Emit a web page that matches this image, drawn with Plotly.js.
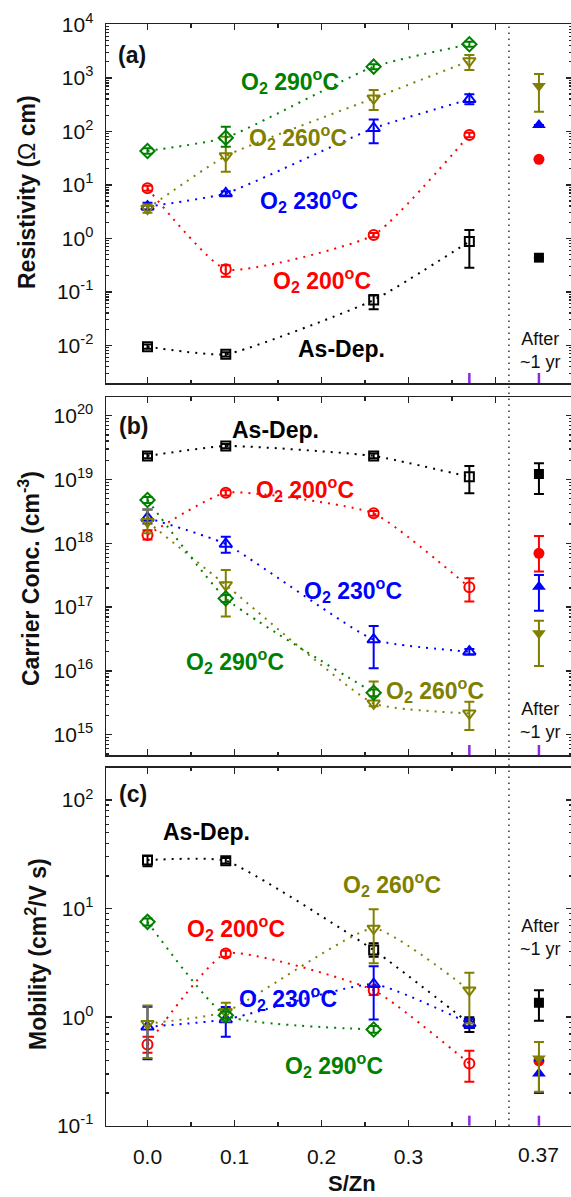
<!DOCTYPE html>
<html>
<head>
<meta charset="utf-8">
<script src="https://cdn.plot.ly/plotly-3.0.1.min.js"></script>
<style>
html,body{margin:0;padding:0;overflow:hidden;background:#fff;}
#chart{width:573px;height:1197px;}
</style>
</head>
<body>
<div id="chart"></div>
<script>
// ---------------- DATA ----------------
const SZN = [0, 0.09, 0.26, 0.37];          // S/Zn ratio of the samples
const AFTER_X = 0.45;                        // column used for the "after ~1 yr" points
const AFTER_LABEL = '0.37';
const XTICK_VALS = [0, 0.1, 0.2, 0.3, 0.4];
const XTICK_TEXT = ['0.0', '0.1', '0.2', '0.3', ''];
const XMINOR_VALS = [0.05, 0.15, 0.25, 0.35];
const BREAK_X = 0.4155;

const SERIES_NAMES = ['As-Dep.', 'O2 200°C', 'O2 230°C', 'O2 260°C', 'O2 290°C'];

// Resistivity (Ohm cm)
const RHO_ASDEP    = [0.0094, 0.0068, 0.070, 0.87];
const RHO_ASDEP_LO = [0.0086, 0.0062, 0.047, 0.28];
const RHO_ASDEP_HI = [0.0103, 0.0074, 0.087, 1.43];
const RHO_200    = [8.6, 0.263, 1.15, 85];
const RHO_200_LO = [7.7, 0.19, 1.05, 77];
const RHO_200_HI = [9.6, 0.314, 1.26, 94];
const RHO_230    = [3.9, 6.9, 114, 396];
const RHO_230_LO = [3.4, 6.3, 60, 320];
const RHO_230_HI = [4.6, 7.6, 167, 490];
const RHO_260    = [3.6, 34.5, 414, 2060];
const RHO_260_LO = [3.0, 17.6, 250, 1400];
const RHO_260_HI = [4.3, 79, 592, 2670];
const RHO_290    = [42.8, 75.9, 1615, 4230];
const RHO_290_LO = [38, 51.5, 1450, 3800];
const RHO_290_HI = [48, 122, 1800, 4700];
// after ~1 yr: As-Dep, 200, 230, 260
const RHO_AFTER    = [0.435, 30, 131, 703];
const RHO_AFTER_LO = [0.435, 30, 131, 232];
const RHO_AFTER_HI = [0.435, 30, 131, 1180];

// Carrier concentration (cm^-3)
const N_ASDEP    = [2.34e19, 3.35e19, 2.34e19, 1.1e19];
const N_ASDEP_LO = [2.15e19, 3.1e19, 2.15e19, 6.1e18];
const N_ASDEP_HI = [2.55e19, 3.6e19, 2.55e19, 1.63e19];
const N_200    = [1.35e18, 6.2e18, 2.95e18, 2.04e17];
const N_200_LO = [1.15e18, 5.6e18, 2.7e18, 1.22e17];
const N_200_HI = [1.6e18, 6.8e18, 3.2e18, 2.83e17];
const N_230    = [2.5e18, 9.75e17, 3.1e16, 2.0e16];
const N_230_LO = [2.05e18, 7.1e17, 1.1e16, 1.8e16];
const N_230_HI = [3.4e18, 1.27e18, 5.06e16, 2.2e16];
const N_260    = [2.18e18, 2.22e17, 3.1e15, 2.16e15];
const N_260_LO = [1.44e18, 7.1e16, 2.8e15, 1.19e15];
const N_260_HI = [3.4e18, 3.8e17, 6.8e15, 3.3e15];
const N_290    = [4.78e18, 1.37e17, 4.55e15];
const N_290_LO = [4.3e18, 1.2e17, 4.0e15];
const N_290_HI = [5.3e18, 1.55e17, 5.1e15];
const N_AFTER    = [1.22e19, 6.97e17, 2.09e17, 3.88e16];
const N_AFTER_LO = [5.9e18, 3.6e17, 8.8e16, 1.19e16];
const N_AFTER_HI = [1.8e19, 1.3e18, 3.18e17, 6.1e16];

// Mobility (cm^2/V s)
const MU_ASDEP    = [28, 27.6, 4.15, 0.875];
const MU_ASDEP_LO = [24.5, 26, 3.6, 0.73];
const MU_ASDEP_HI = [30.5, 29.2, 4.8, 1.0];
const MU_200    = [0.56, 3.86, 1.77, 0.374];
const MU_200_LO = [0.47, 3.6, 1.6, 0.254];
const MU_200_HI = [0.66, 4.1, 1.95, 0.49];
const MU_230    = [0.815, 0.95, 2.01, 0.875];
const MU_230_LO = [0.41, 0.66, 0.953, 0.8];
const MU_230_HI = [1.245, 1.24, 2.95, 0.96];
const MU_260    = [0.87, 1.12, 6.56, 1.77];
const MU_260_LO = [0.42, 0.915, 3.13, 0.875];
const MU_260_HI = [1.28, 1.36, 9.84, 2.56];
const MU_290    = [7.55, 1.04, 0.77];
const MU_290_LO = [7.0, 0.97, 0.72];
const MU_290_HI = [8.1, 1.12, 0.83];
const MU_AFTER    = [1.36, 0.395, 0.303, 0.416];
const MU_AFTER_LO = [0.925, 0.395, 0.20, 0.205];
const MU_AFTER_HI = [1.77, 0.395, 0.40, 0.59];

// decade exponents shown as tick labels
const RHO_EXP = [-2, -1, 0, 1, 2, 3, 4];
const N_EXP = [15, 16, 17, 18, 19, 20];
const MU_EXP = [-1, 0, 1, 2];

// ---------------- STYLE ----------------
const W = 573, H = 1197;
const px = x => x / W;
const py = y => 1 - y / H;
const COLORS = ['#000000', '#ff0000', '#0000ff', '#808000', '#008000'];
const SYMBOLS = ['square', 'circle', 'triangle-up', 'triangle-down', 'diamond'];
const SIZES = [9, 10, 11, 11, 11];
const FONT = 'Liberation Sans, Arial, Helvetica, sans-serif';
const AX_COL = '#222';

const panels = [
  {xa: 'x', ya: 'y', series: [
    [RHO_ASDEP, RHO_ASDEP_LO, RHO_ASDEP_HI], [RHO_200, RHO_200_LO, RHO_200_HI],
    [RHO_230, RHO_230_LO, RHO_230_HI], [RHO_260, RHO_260_LO, RHO_260_HI],
    [RHO_290, RHO_290_LO, RHO_290_HI]],
   after: [RHO_AFTER, RHO_AFTER_LO, RHO_AFTER_HI]},
  {xa: 'x2', ya: 'y2', series: [
    [N_ASDEP, N_ASDEP_LO, N_ASDEP_HI], [N_200, N_200_LO, N_200_HI],
    [N_230, N_230_LO, N_230_HI], [N_260, N_260_LO, N_260_HI],
    [N_290, N_290_LO, N_290_HI]],
   after: [N_AFTER, N_AFTER_LO, N_AFTER_HI]},
  {xa: 'x3', ya: 'y3', series: [
    [MU_ASDEP, MU_ASDEP_LO, MU_ASDEP_HI], [MU_200, MU_200_LO, MU_200_HI],
    [MU_230, MU_230_LO, MU_230_HI], [MU_260, MU_260_LO, MU_260_HI],
    [MU_290, MU_290_LO, MU_290_HI]],
   after: [MU_AFTER, MU_AFTER_LO, MU_AFTER_HI]}
];

const traces = [];
panels.forEach(p => {
  p.series.forEach((s, i) => {
    const [v, lo, hi] = s;
    traces.push({
      type: 'scatter', mode: 'lines+markers', name: SERIES_NAMES[i],
      x: SZN.slice(0, v.length), y: v, xaxis: p.xa, yaxis: p.ya,
      line: {color: COLORS[i], width: 2, dash: '2px,6px', shape: 'spline', smoothing: 0.45},
      marker: {symbol: SYMBOLS[i] + '-open', size: SIZES[i], color: COLORS[i], line: {width: 2, color: COLORS[i]}},
      error_y: {type: 'data', symmetric: false,
        array: v.map((d, k) => hi[k] - d), arrayminus: v.map((d, k) => d - lo[k]),
        color: COLORS[i], thickness: 2, width: 5},
      showlegend: false, hoverinfo: 'skip'
    });
  });
  const [av, alo, ahi] = p.after;
  av.forEach((d, i) => {
    traces.push({
      type: 'scatter', mode: 'markers', name: SERIES_NAMES[i] + ' after ~1 yr',
      x: [AFTER_X], y: [d], xaxis: p.xa, yaxis: p.ya,
      marker: {symbol: SYMBOLS[i], size: SIZES[i] + 1, color: COLORS[i]},
      error_y: {type: 'data', symmetric: false, array: [ahi[i] - d], arrayminus: [d - alo[i]],
        color: COLORS[i], thickness: 2, width: 5},
      showlegend: false, hoverinfo: 'skip'
    });
  });
});

function minorLog(exps) {
  const out = [];
  for (let e = exps[0] - 1; e <= exps[exps.length - 1]; e++)
    for (let m = 2; m <= 9; m++) out.push(m * Math.pow(10, e));
  return out;
}

function xAxis(anchor, showLabels) {
  return {
    domain: [px(106), px(572)], anchor: anchor, range: [-0.0477, 0.488],
    tickmode: 'array', tickvals: XTICK_VALS, ticktext: XTICK_TEXT,
    showticklabels: showLabels, ticks: 'inside', ticklen: 6, tickwidth: 1.5, tickcolor: AX_COL,
    minor: {tickmode: 'array', tickvals: XMINOR_VALS, ticks: 'inside', ticklen: 3.5, tickwidth: 1.2, tickcolor: AX_COL},
    showline: true, linecolor: AX_COL, linewidth: 1.5, mirror: 'ticks',
    showgrid: false, zeroline: false, automargin: false, fixedrange: true,
    tickfont: {family: FONT, size: 21, color: '#111'}, ticklabelstandoff: 12
  };
}
function yAxis(anchor, top, bottom, range, exps) {
  return {
    domain: [py(bottom), py(top)], anchor: anchor, type: 'log', range: range,
    tickmode: 'array', tickvals: exps.map(e => Math.pow(10, e)),
    ticktext: exps.map(e => '10<sup>' + e + '</sup>'),
    ticks: 'inside', ticklen: 6, tickwidth: 1.5, tickcolor: AX_COL,
    minor: {tickmode: 'array', tickvals: minorLog(exps), ticks: 'inside', ticklen: 3, tickwidth: 1.2, tickcolor: AX_COL},
    showline: true, linecolor: AX_COL, linewidth: 1.5, mirror: 'ticks',
    showgrid: false, zeroline: false, automargin: false, fixedrange: true,
    tickfont: {family: FONT, size: 21, color: '#111'}, ticklabelstandoff: 7
  };
}

const shapes = [{
  type: 'line', xref: 'x', yref: 'paper', x0: BREAK_X, x1: BREAK_X, y0: py(1126), y1: py(24),
  line: {color: '#333', width: 1.5, dash: '1.5px,4.5px'}
}];
['', '2', '3'].forEach(k => {
  [SZN[3], AFTER_X].forEach(xv => {
    shapes.push({type: 'line', xref: 'x' + k, yref: 'y' + k + ' domain', x0: xv, x1: xv, y0: 0, y1: 0.028,
      line: {color: '#8a2be2', width: 2.5}});
  });
});

function ann(text, cx, cy, color, size, bold, extra) {
  return Object.assign({
    text: bold ? '<b>' + text + '</b>' : text, xref: 'paper', yref: 'paper',
    x: px(cx), y: py(cy), xanchor: 'center', yanchor: 'middle', showarrow: false,
    font: {family: FONT, size: size, color: color}
  }, extra || {});
}
const O2 = t => 'O<sub>2</sub> ' + t + '<sup>o</sup>C';
const annotations = [
  ann('(a)', 132, 55, '#111', 23, true),
  ann('(b)', 133, 426, '#111', 23, true),
  ann('(c)', 133, 794, '#111', 23, true),
  // panel (a)
  ann(O2(290), 290, 81, COLORS[4], 23, true),
  ann(O2(260), 298, 137, COLORS[3], 23, true),
  ann(O2(230), 309, 200, COLORS[2], 23, true),
  ann(O2(200), 322, 280, COLORS[1], 23, true),
  ann('As-Dep.', 341, 349, COLORS[0], 23, true),
  ann('After<br>~1 yr', 540, 350, '#111', 18, false),
  // panel (b)
  ann('As-Dep.', 275, 430, COLORS[0], 23, true),
  ann(O2(200), 305, 489, COLORS[1], 23, true),
  ann(O2(230), 353, 590, COLORS[2], 23, true),
  ann(O2(290), 235, 661, COLORS[4], 23, true),
  ann(O2(260), 435, 690, COLORS[3], 23, true),
  ann('After<br>~1 yr', 540, 720, '#111', 18, false),
  // panel (c)
  ann('As-Dep.', 206, 832, COLORS[0], 23, true),
  ann(O2(260), 392, 884, COLORS[3], 23, true),
  ann(O2(200), 236, 928, COLORS[1], 23, true),
  ann(O2(230), 288, 998, COLORS[2], 23, true),
  ann(O2(290), 334, 1065, COLORS[4], 23, true),
  ann('After<br>~1 yr', 540, 937, '#111', 18, false),
  // axis titles
  ann('S/Zn', 352, 1183, '#111', 22, true),
  {text: AFTER_LABEL, xref: 'x3', yref: 'paper', x: AFTER_X, y: py(1154), xanchor: 'center', yanchor: 'middle',
   showarrow: false, font: {family: FONT, size: 21, color: '#111'}},
  ann('Resistivity (<span style="font-weight:normal">Ω</span> cm)', 27, 192, '#111', 23, true, {textangle: -90}),
  ann('Carrier Conc. (cm<sup>-3</sup>)', 29, 579, '#111', 23, true, {textangle: -90}),
  ann('Mobility (cm<sup>2</sup>/V s)', 36, 954, '#111', 23, true, {textangle: -90})
];

const layout = {
  width: W, height: H, margin: {l: 0, r: 0, t: 0, b: 0},
  paper_bgcolor: '#fff', plot_bgcolor: 'rgba(0,0,0,0)',
  font: {family: FONT, color: '#111'}, showlegend: false,
  xaxis: xAxis('y', false), xaxis2: xAxis('y2', false), xaxis3: xAxis('y3', true),
  yaxis: yAxis('x', 24.3, 383, [-2.705, 4], RHO_EXP),
  yaxis2: yAxis('x2', 397, 755, [14.682, 20.293], N_EXP),
  yaxis3: yAxis('x3', 767.7, 1125.7, [-1, 2.298], MU_EXP),
  shapes: shapes, annotations: annotations
};

Plotly.newPlot('chart', traces, layout, {displayModeBar: false, staticPlot: true});
</script>
</body>
</html>
